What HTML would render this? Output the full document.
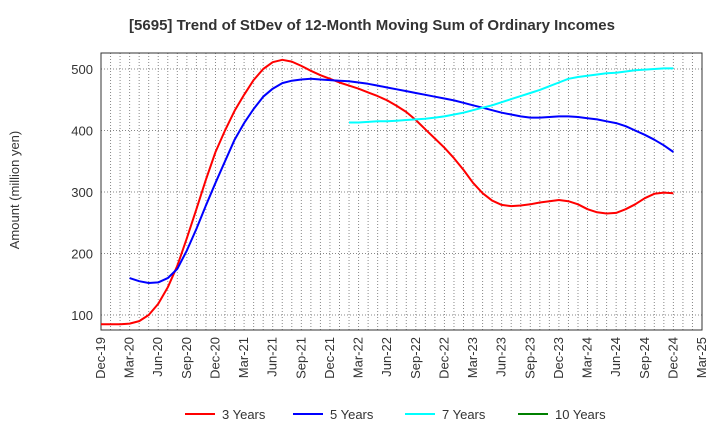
<!DOCTYPE html>
<html><head><meta charset="utf-8"><style>
body{margin:0;background:#fff;}
svg{display:block;font-family:"Liberation Sans",Arial,sans-serif;}
</style></head><body>
<svg id="chart" width="720" height="440">
<text x="372" y="30" text-anchor="middle" font-size="15" font-weight="bold" fill="#333">[5695]  Trend of StDev of 12-Month Moving Sum of Ordinary Incomes</text>
<text transform="translate(19,190) rotate(-90)" text-anchor="middle" font-size="13" fill="#333">Amount (million yen)</text>
<g id="grid"></g><g id="axes"></g><g id="series"></g><g id="legend"></g>
</svg>
<script>
const xLabels=["Dec-19","Mar-20","Jun-20","Sep-20","Dec-20","Mar-21","Jun-21","Sep-21","Dec-21","Mar-22","Jun-22","Sep-22","Dec-22","Mar-23","Jun-23","Sep-23","Dec-23","Mar-24","Jun-24","Sep-24","Dec-24","Mar-25"];
const yTicks=[100,200,300,400,500];
const y3=[85,85,85,86,90,100,118,145,180,225,272,320,365,400,432,458,482,500,511,515,512,505,497,490,484,478,473,468,462,456,449,440,430,417,402,387,372,355,336,315,298,286,279,277,278,280,283,285,287,285,280,272,267,265,266,272,280,290,297,299,298];
const y5Start=3;
const y5=[160,155,152,153,160,175,205,240,278,315,350,385,412,435,455,468,477,481,483,484,483,482,481,480,478,476,473,470,467,464,461,458,455,452,449,445,441,437,433,429,426,423,421,421,422,423,423,422,420,418,415,412,407,400,393,385,376,365];
const y7Start=26;
const y7=[413,413,414,415,415,416,417,418,419,421,423,426,429,433,437,441,446,451,456,461,466,472,478,484,487,489,491,493,494,496,498,499,500,501,501];
const y10=[];
const L=101,R=702,T=53,B=330;
const xm=m=>L+m*(R-L)/63;
const yv=v=>69+(500-v)*0.615;
const NS="http://www.w3.org/2000/svg";
function mk(t,a,p){const e=document.createElementNS(NS,t);for(const k in a)e.setAttribute(k,a[k]);p.appendChild(e);return e;}
const grid=document.getElementById('grid'),axes=document.getElementById('axes'),ser=document.getElementById('series'),leg=document.getElementById('legend');
for(let m=1;m<63;m++){const g=mk('line',{x1:xm(m),x2:xm(m),y1:T,y2:B,stroke:'#888','stroke-width':1,'stroke-dasharray':'1,2'},grid);

}
yTicks.forEach(v=>{const g=mk('line',{x1:L,x2:R,y1:yv(v),y2:yv(v),stroke:'#888','stroke-width':1,'stroke-dasharray':'1,2'},grid);


const t=mk('text',{x:L-8,y:yv(v)+5,'text-anchor':'end','font-size':13,fill:'#333'},axes);t.textContent=v;

});
const fr=mk('rect',{x:L,y:T,width:R-L,height:B-T,fill:'none',stroke:'#333','stroke-width':1},axes);


xLabels.forEach((s,i)=>{const x=xm(i*3);const t=mk('text',{transform:`translate(${x+4},337) rotate(-90)`,'text-anchor':'end','font-size':13,fill:'#333'},axes);t.textContent=s;

});
function line(arr,start,color,name){if(!arr.length)return;const d=arr.map((v,i)=>(i?'L':'M')+xm(start+i).toFixed(1)+','+yv(v).toFixed(1)).join(' ');
const p=mk('path',{d:d,fill:'none',stroke:color,'stroke-width':2,'stroke-linejoin':'round'},ser);

}
line(y3,0,'#ff0000','line-3-years');
line(y5,y5Start,'#0000ff','line-5-years');
line(y7,y7Start,'#00ffff','line-7-years');
line(y10,0,'#008000','line-10-years');
[["3 Years","#ff0000",185],["5 Years","#0000ff",293],["7 Years","#00ffff",405],["10 Years","#008000",518]].forEach(([n,c,x])=>{
const g=mk('g',{},leg);


mk('line',{x1:x,x2:x+30,y1:414,y2:414,stroke:c,'stroke-width':2},g);
const t=mk('text',{x:x+37,y:419,'font-size':13,fill:'#333'},g);t.textContent=n;});
</script>
</body></html>
